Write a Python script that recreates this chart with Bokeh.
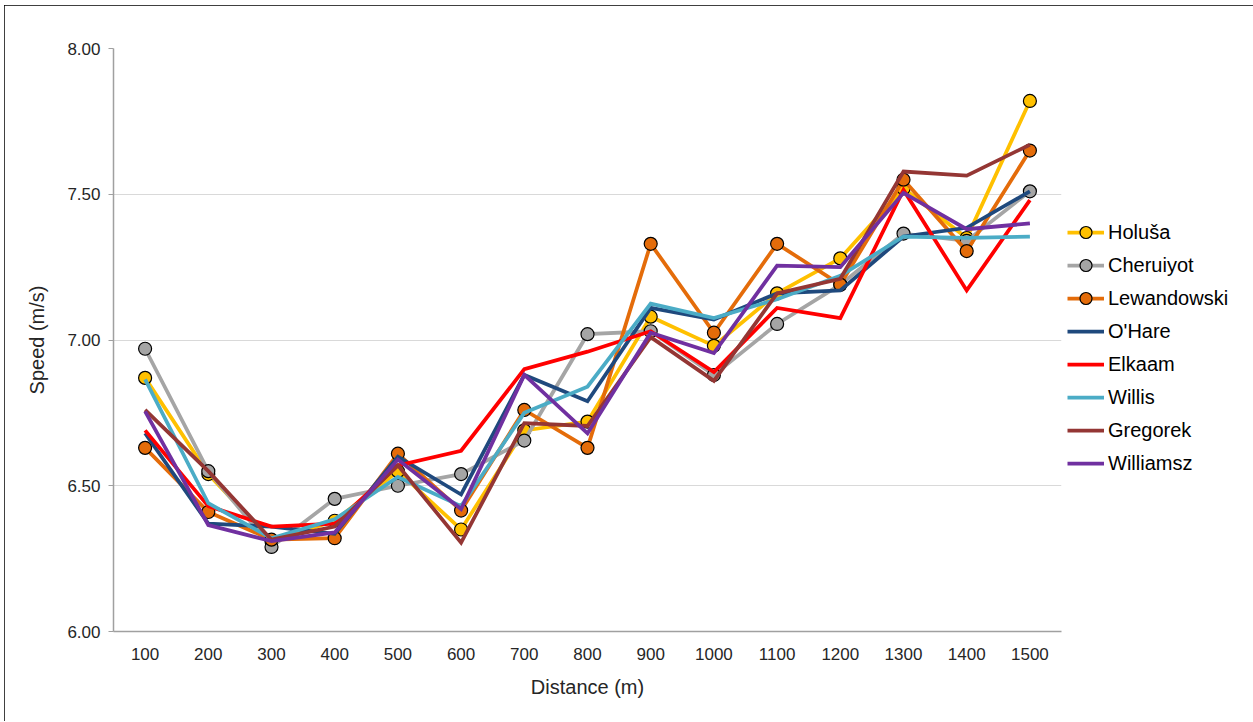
from bokeh.plotting import figure
from bokeh.models import (FactorRange, Range1d, FixedTicker, NumeralTickFormatter,
                          Legend, LegendItem, ColumnDataSource)
from bokeh.embed import file_html
from bokeh.resources import INLINE

# ---- data ----
distances = ["100", "200", "300", "400", "500", "600", "700", "800",
             "900", "1000", "1100", "1200", "1300", "1400", "1500"]

holusa      = [6.87, 6.54, 6.31, 6.38, 6.55, 6.35, 6.69, 6.72, 7.08, 6.98, 7.16, 7.28, 7.52, 7.35, 7.82]
cheruiyot   = [6.97, 6.55, 6.29, 6.455, 6.50, 6.54, 6.655, 7.02, 7.03, 6.88, 7.055, 7.19, 7.365, 7.34, 7.51]
lewandowski = [6.63, 6.41, 6.315, 6.32, 6.61, 6.415, 6.76, 6.63, 7.33, 7.025, 7.33, 7.19, 7.55, 7.305, 7.65]
ohare       = [6.68, 6.37, 6.36, 6.335, 6.60, 6.47, 6.88, 6.79, 7.11, 7.07, 7.16, 7.17, 7.355, 7.385, 7.51]
elkaam      = [6.69, 6.43, 6.36, 6.37, 6.57, 6.62, 6.90, 6.96, 7.03, 6.89, 7.11, 7.075, 7.515, 7.17, 7.48]
willis      = [6.865, 6.44, 6.32, 6.385, 6.53, 6.43, 6.75, 6.84, 7.125, 7.075, 7.14, 7.22, 7.355, 7.35, 7.355]
gregorek    = [6.76, 6.55, 6.315, 6.36, 6.57, 6.305, 6.715, 6.705, 7.01, 6.86, 7.16, 7.21, 7.578, 7.564, 7.67]
williamsz   = [6.755, 6.365, 6.31, 6.34, 6.59, 6.42, 6.88, 6.68, 7.025, 6.955, 7.255, 7.25, 7.505, 7.38, 7.40]

y_ticks = [6.0, 6.5, 7.0, 7.5, 8.0]

series = [
    ("Holuša", holusa, "#FFC000", True),
    ("Cheruiyot", cheruiyot, "#A5A5A5", True),
    ("Lewandowski", lewandowski, "#E46C0A", True),
    ("O'Hare", ohare, "#1F497D", False),
    ("Elkaam", elkaam, "#FF0000", False),
    ("Willis", willis, "#4BACC6", False),
    ("Gregorek", gregorek, "#943634", False),
    ("Williamsz", williamsz, "#7030A0", False),
]

FONT = "Liberation Sans"

p = figure(frame_width=948, frame_height=583,
           x_range=FactorRange(*distances), y_range=Range1d(6, 8),
           output_backend="svg", toolbar_location=None,
           min_border_left=109, min_border_right=191,
           min_border_top=43, min_border_bottom=90)
p.styles = {"outline": "2px solid #000000", "outline-offset": "-2px",
            "margin-left": "4px", "margin-top": "5px"}
p.outline_line_color = None
p.background_fill_color = "white"
p.border_fill_color = "white"
p.x_range.range_padding = 0

# grid
p.xgrid.grid_line_color = None
p.ygrid.grid_line_color = "#D9D9D9"
p.ygrid.grid_line_width = 1.2
p.yaxis.ticker = FixedTicker(ticks=y_ticks)
p.yaxis.formatter = NumeralTickFormatter(format="0.00")

# axes
for ax in (p.xaxis[0], p.yaxis[0]):
    ax.axis_line_color = "#A0A0A0"
    ax.axis_line_width = 1.5
    ax.major_label_text_font = FONT
    ax.major_label_text_font_size = "17px"
    ax.major_label_text_color = "#262626"
    ax.axis_label_text_font = FONT
    ax.axis_label_text_font_size = "20px"
    ax.axis_label_text_font_style = "normal"
    ax.axis_label_text_color = "#262626"
    ax.minor_tick_line_color = None

p.yaxis.major_tick_line_color = "#A0A0A0"
p.yaxis.major_tick_out = 5
p.yaxis.major_tick_in = 0
p.yaxis.major_label_standoff = 8
p.yaxis.axis_label = "Speed (m/s)"
p.yaxis.axis_label_standoff = 16

p.xaxis.major_tick_line_color = None
p.xaxis.major_label_standoff = 10
p.xaxis.axis_label = "Distance (m)"
p.xaxis.axis_label_standoff = 13

items = []
for name, vals, color, marker in series:
    src = ColumnDataSource(dict(x=distances, y=vals))
    rs = [p.line("x", "y", source=src, line_color=color, line_width=3.75,
                 line_join="miter")]
    if marker:
        rs.append(p.scatter("x", "y", source=src, marker="circle", size=13,
                            fill_color=color, line_color="#000000", line_width=1.2))
    items.append(LegendItem(label=name, renderers=rs))

legend = Legend(items=items, location=(6, 153), orientation="vertical",
                glyph_width=37, glyph_height=30, label_height=30,
                label_standoff=4, spacing=3, padding=0, margin=0,
                border_line_color=None, background_fill_alpha=0,
                label_text_font=FONT, label_text_font_size="20px",
                label_text_color="#000000")
p.add_layout(legend, "right")

open("out.html", "w").write(file_html(p, INLINE))
